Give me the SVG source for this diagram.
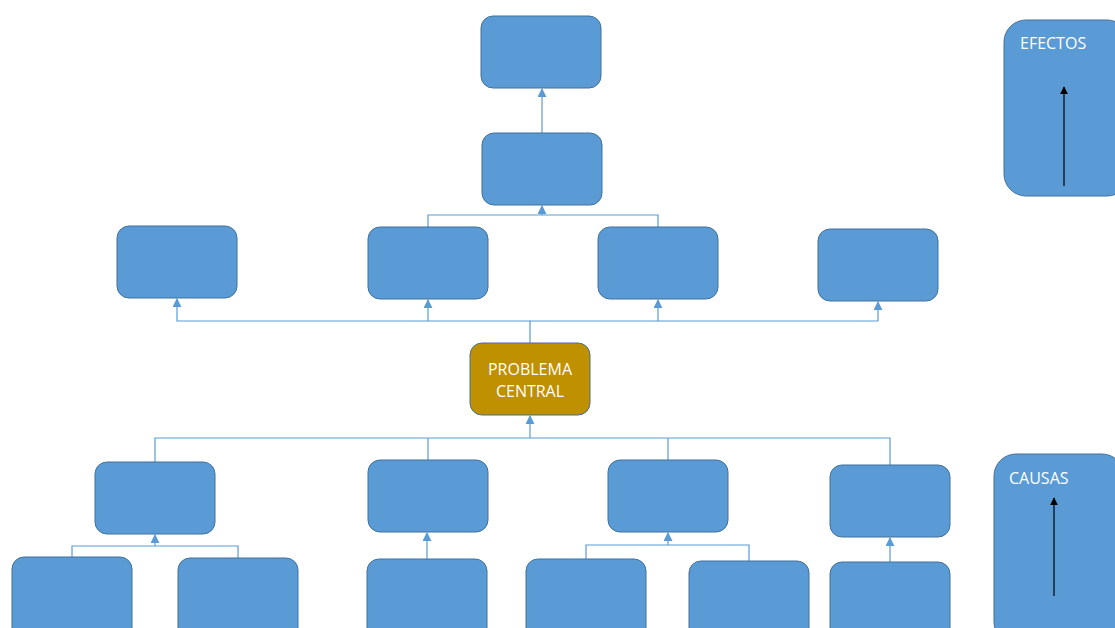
<svg xmlns="http://www.w3.org/2000/svg" width="1115" height="628" viewBox="0 0 1115 628">
<style>
.n{fill:#5B9BD5;stroke:#41719C;stroke-width:1}
.p{fill:#BF9000;stroke:#41719C;stroke-width:1}
.c{fill:none;stroke:#5B9BD5;stroke-width:1.2}
.t{font-family:"Open Sans","Liberation Sans",sans-serif;font-size:16px;fill:#FFFFFF}
.k{stroke:#000;stroke-width:1.2;fill:none}
</style>
<defs>
<marker id="a" viewBox="0 0 10 10" refX="9" refY="5" markerWidth="9" markerHeight="9" markerUnits="userSpaceOnUse" orient="auto"><path d="M0,0L10,5L0,10z" fill="#5B9BD5"/></marker>
<marker id="b" viewBox="0 0 10 10" refX="9" refY="5" markerWidth="8" markerHeight="8" markerUnits="userSpaceOnUse" orient="auto"><path d="M0,0L10,5L0,10z" fill="#000"/></marker>
</defs>
<g id="connectors">
<path class="c" d="M542,133V89" marker-end="url(#a)"/>
<path class="c" d="M428,227V215H658V227"/>
<path class="c" d="M542,215V206" marker-end="url(#a)"/>
<path class="c" d="M530,343V321H177V299" marker-end="url(#a)"/>
<path class="c" d="M428,321V300" marker-end="url(#a)"/>
<path class="c" d="M530,321H878V302" marker-end="url(#a)"/>
<path class="c" d="M658,321V300" marker-end="url(#a)"/>
<path class="c" d="M155,462V438H890V465"/>
<path class="c" d="M428,460V438"/>
<path class="c" d="M668,460V438"/>
<path class="c" d="M530,438V416" marker-end="url(#a)"/>
<path class="c" d="M72,557V546H238V558"/>
<path class="c" d="M155,546V535" marker-end="url(#a)"/>
<path class="c" d="M427,559V533" marker-end="url(#a)"/>
<path class="c" d="M586,559V545H749V561"/>
<path class="c" d="M668,545V533" marker-end="url(#a)"/>
<path class="c" d="M890,562V538" marker-end="url(#a)"/>
</g>
<g id="e0"><rect class="n" x="481" y="16" width="120" height="72" rx="12"/></g>
<g id="e1"><rect class="n" x="482" y="133" width="120" height="72" rx="12"/></g>
<g id="e2"><rect class="n" x="117" y="226" width="120" height="72" rx="12"/></g>
<g id="e3"><rect class="n" x="368" y="227" width="120" height="72" rx="12"/></g>
<g id="e4"><rect class="n" x="598" y="227" width="120" height="72" rx="12"/></g>
<g id="e5"><rect class="n" x="818" y="229" width="120" height="72" rx="12"/></g>
<g id="problema"><rect class="p" x="470" y="343" width="120" height="72" rx="12"/>
<text class="t" x="530" y="375" text-anchor="middle">PROBLEMA</text>
<text class="t" x="530" y="397" text-anchor="middle">CENTRAL</text></g>
<g id="c1"><rect class="n" x="95" y="462" width="120" height="72" rx="12"/></g>
<g id="c2"><rect class="n" x="368" y="460" width="120" height="72" rx="12"/></g>
<g id="c3"><rect class="n" x="608" y="460" width="120" height="72" rx="12"/></g>
<g id="c4"><rect class="n" x="830" y="465" width="120" height="72" rx="12"/></g>
<g id="d1"><rect class="n" x="12" y="557" width="120" height="90" rx="12"/></g>
<g id="d2"><rect class="n" x="178" y="558" width="120" height="90" rx="12"/></g>
<g id="d3"><rect class="n" x="367" y="559" width="120" height="90" rx="12"/></g>
<g id="d4"><rect class="n" x="526" y="559" width="120" height="90" rx="12"/></g>
<g id="d5"><rect class="n" x="689" y="561" width="120" height="90" rx="12"/></g>
<g id="d6"><rect class="n" x="830" y="562" width="120" height="90" rx="12"/></g>
<g id="efectos"><rect class="n" x="1004" y="20" width="125" height="176" rx="22"/>
<text class="t" x="1020" y="49">EFECTOS</text>
<path class="k" d="M1064,186V87" marker-end="url(#b)"/></g>
<g id="causas"><rect class="n" x="994" y="454" width="130" height="190" rx="22"/>
<text class="t" x="1009" y="484">CAUSAS</text>
<path class="k" d="M1054,596V498" marker-end="url(#b)"/></g>
</svg>
